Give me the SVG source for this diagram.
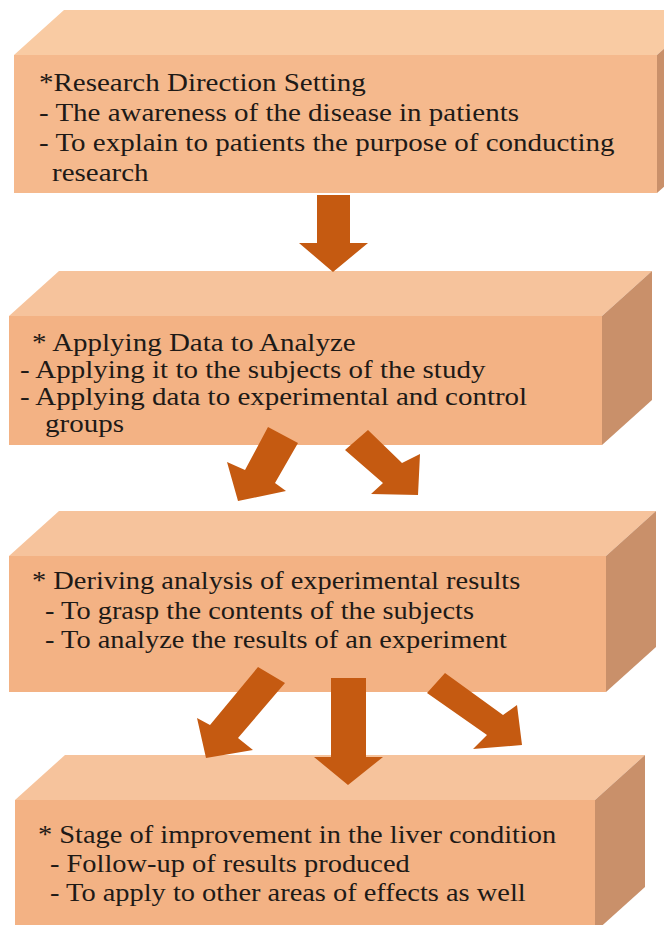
<svg xmlns="http://www.w3.org/2000/svg" width="664" height="925" viewBox="0 0 664 925">
<style>
.top{fill:#F6C39C}
.front{fill:#F3B284}
.side{fill:#C9906A}
.top1{fill:#F9CBA3}
.front1{fill:#F5B98D}
.arrow{fill:#C55A11}
.t{font-family:"Liberation Serif","Times New Roman",serif;font-size:25px;fill:#1E1A17}
.s{font-size:24.5px}
</style>
<rect width="664" height="925" fill="#FFFFFF"/>
<g id="node1">
<polygon class="top1" points="14,55 64,10 707,10 657,55"/>
<polygon class="side" points="657,55 707,10 707,148 657,193"/>
<rect class="front1" x="14" y="55" width="643" height="138"/>
<text class="t" transform="translate(39,91) scale(1.16,1)">*Research Direction Setting</text>
<text class="t" transform="translate(39,121) scale(1.16,1)">- The awareness of the disease in patients</text>
<text class="t" transform="translate(39,151) scale(1.16,1)">- To explain to patients the purpose of conducting</text>
<text class="t" transform="translate(52,181) scale(1.16,1)">research</text>
</g>
<g id="node2">
<polygon class="top" points="9,316 59,271 652,271 602,316"/>
<polygon class="side" points="602,316 652,271 652,400 602,445"/>
<rect class="front" x="9" y="316" width="593" height="129"/>
<text class="t" transform="translate(32,351) scale(1.16,1)">* Applying Data to Analyze</text>
<text class="t" transform="translate(20,378) scale(1.16,1)">- Applying it to the subjects of the study</text>
<text class="t" transform="translate(20,405) scale(1.16,1)">- Applying data to experimental and control</text>
<text class="t" transform="translate(45,432) scale(1.16,1)">groups</text>
</g>
<g id="node3">
<polygon class="top" points="9,556 59,511 656,511 606,556"/>
<polygon class="side" points="606,556 656,511 656,647 606,692"/>
<rect class="front" x="9" y="556" width="597" height="136"/>
<text class="t s" transform="translate(32,589) scale(1.16,1)">* Deriving analysis of experimental results</text>
<text class="t s" transform="translate(45,619) scale(1.16,1)">- To grasp the contents of the subjects</text>
<text class="t s" transform="translate(45,648) scale(1.16,1)">- To analyze the results of an experiment</text>
</g>
<g id="node4">
<polygon class="top" points="15,800 65,755 645,755 595,800"/>
<polygon class="side" points="595,800 645,755 645,887 595,932"/>
<rect class="front" x="15" y="800" width="580" height="132"/>
<text class="t s" transform="translate(38,843) scale(1.16,1)">* Stage of improvement in the liver condition</text>
<text class="t s" transform="translate(50,872) scale(1.16,1)">- Follow-up of results produced</text>
<text class="t s" transform="translate(50,901) scale(1.16,1)">- To apply to other areas of effects as well</text>
</g>
<g id="connectors">
<polygon class="arrow" points="317,195 350,195 350,243 368,243 333,272 299,243 317,243"/>
<polygon class="arrow" points="268,427 298,443 275,483 286,491 238,501 227,462 245,470"/>
<polygon class="arrow" points="368,430 402,463 420,454 418,495 371,494 383,483 345,450"/>
<polygon class="arrow" points="258,667 285,683 238,738 253,750 206,758 197,718 210,725"/>
<polygon class="arrow" points="331,678 366,678 366,757 383,757 348,785 314,757 331,757"/>
<polygon class="arrow" points="445,673 503,715 517,705 522,745 473,749 487,735 427,693"/>
</g>
</svg>
